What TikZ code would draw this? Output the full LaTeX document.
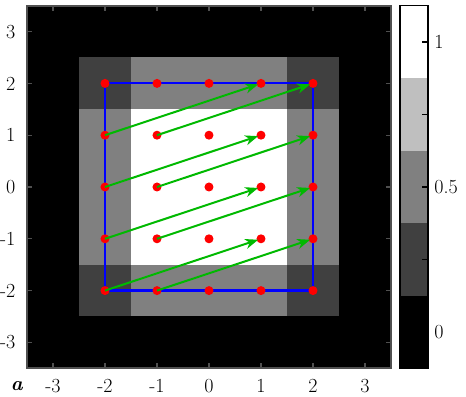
\documentclass[tikz,border=0pt]{standalone}
\usetikzlibrary{arrows.meta}
\definecolor{axgray}{RGB}{80,80,80}
\definecolor{quivgreen}{RGB}{0,185,0}
\definecolor{lvlA}{RGB}{64,64,64}
\definecolor{lvlB}{RGB}{128,128,128}
\definecolor{lvlC}{RGB}{191,191,191}
\tikzset{
  dot/.style={circle,fill=red,inner sep=0pt,minimum size=9pt},
  arr/.style={draw=quivgreen,line width=2pt,shorten >=3pt,
    -{Stealth[length=13pt,width=10pt,inset=4pt]},fill=quivgreen},
  frame/.style={draw=axgray,line width=2pt},
  tick/.style={draw=axgray,line width=1.2pt},
  cbtick/.style={draw=black,line width=1.2pt},
  lab/.style={font=\fontsize{20}{24}\selectfont,inner sep=0pt},
  boundary/.style={draw=blue,line width=2.2pt}
}
\begin{document}
\begin{tikzpicture}[x=52pt,y=51.8pt]
\useasboundingbox (-4.0192,-4.054) rectangle (4.9423,3.610);
% image
\fill[black] (-3.5,-3.5) rectangle (3.5,3.5);
\fill[lvlB] (-2.5,-2.5) rectangle (2.5,2.5);
\fill[white] (-1.5,-1.5) rectangle (1.5,1.5);
\foreach \cx in {-2,2}{\foreach \cy in {-2,2}{
  \fill[lvlA] (\cx-0.5,\cy-0.5) rectangle (\cx+0.5,\cy+0.5);}}
% ticks
\foreach \t in {-3,...,3}{
  \draw[tick] (\t,-3.5) -- (\t,-3.4);
  \draw[tick] (\t,3.5) -- (\t,3.4);
  \draw[tick] (-3.5,\t) -- (-3.4,\t);
  \draw[tick] (3.5,\t) -- (3.4,\t);
}
\draw[frame] (-3.5,-3.5) rectangle (3.5,3.5);
% tick labels
\foreach \t in {-3,...,3}{
  \node[lab] (xl\t) at (\t,-3.84) {\t};
  \node[lab,anchor=east] (yl\t) at (-3.72,\t) {\t};
}
\node[lab] (alabel) at (-3.69,-3.84) {\textbf{\textit{a}}};
% blue square
\draw[boundary] (-2,-2) rectangle (2,2);
% dots
\foreach \x in {-2,...,2}{\foreach \y in {-2,...,2}{
  \node[dot] (p\x q\y) at (\x,\y) {};}}
% arrows
\foreach \x in {-2,-1}{\foreach \y in {-2,...,1}{
  \pgfmathtruncatemacro\xe{\x+3}
  \pgfmathtruncatemacro\ye{\y+1}
  \draw[arr] (p\x q\y.center) -- (p\xe q\ye.center);}}
% colorbar
\fill[black] (3.673,-3.5) rectangle (4.212,-2.1);
\fill[lvlA] (3.673,-2.1) rectangle (4.212,-0.7);
\fill[lvlB] (3.673,-0.7) rectangle (4.212,0.7);
\fill[lvlC] (3.673,0.7) rectangle (4.212,2.1);
\fill[white] (3.673,2.1) rectangle (4.212,3.5);
\foreach \v in {-2.8,-1.4,0,1.4,2.8}{
  \draw[cbtick] (4.212,\v) -- (4.09,\v);}
\draw[black,line width=1.6pt] (3.673,-3.5) rectangle (4.212,3.5);
\node[lab,anchor=west] (cb1) at (4.33,2.8) {1};
\node[lab,anchor=west] (cb05) at (4.33,0) {0.5};
\node[lab,anchor=west] (cb0) at (4.33,-2.8) {0};
\end{tikzpicture}
\end{document}
